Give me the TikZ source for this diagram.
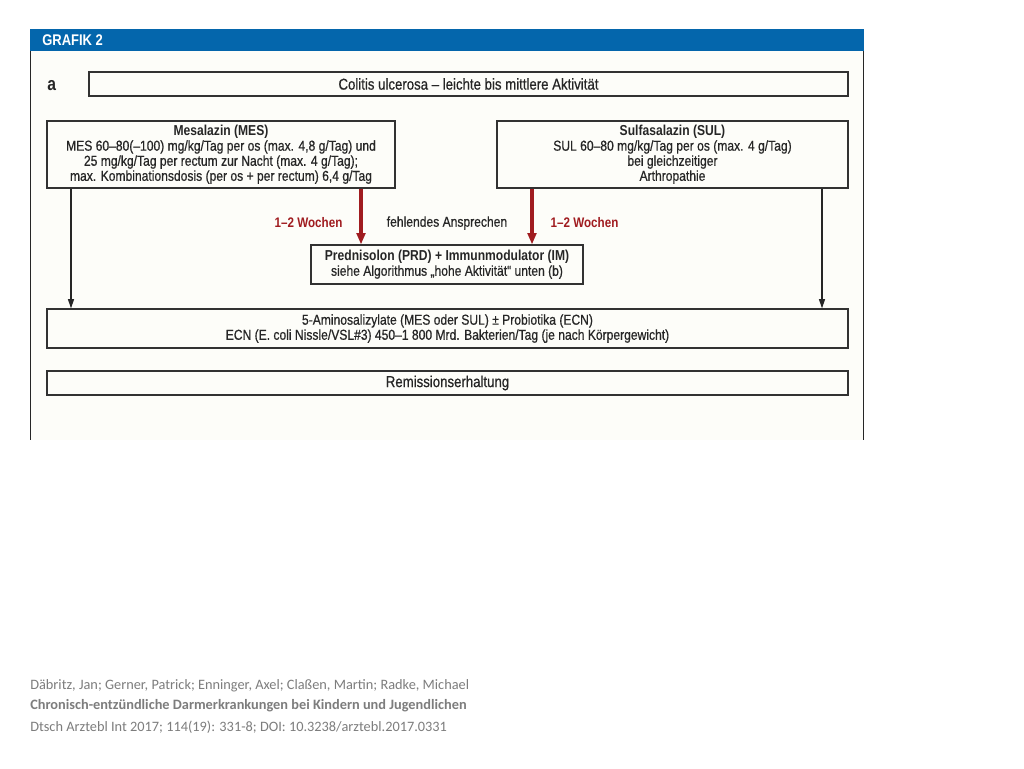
\documentclass[tikz,border=0pt]{standalone}
\usepackage{fontspec}
\setmainfont{Liberation Sans}[FakeStretch=0.84, UprightFeatures={FakeBold=0.6}]
\newfontfamily\citefont{Carlito}
\usetikzlibrary{arrows.meta}
\definecolor{grafblue}{RGB}{4,102,172}
\definecolor{darkred}{RGB}{160,28,32}
\definecolor{boxline}{RGB}{50,50,50}
\definecolor{citegray}{RGB}{125,125,125}
\definecolor{paper}{RGB}{253,253,249}
\begin{document}
\begin{tikzpicture}[x=0.75pt,y=-0.75pt,
  box/.style={draw=boxline,line width=0.9pt,inner sep=0pt,align=center,font=\fontsize{10.8}{11.3}\selectfont,text=black!85},
  blackarrow/.style={draw=black!85,line width=1.1pt,-{Triangle[width=4.5pt,length=7pt]}},
  redarrow/.style={draw=darkred,line width=2.3pt,-{Triangle[width=6.5pt,length=8.5pt]}},
  redlabel/.style={text=darkred,font=\bfseries\fontsize{10.4}{11}\selectfont,inner sep=0pt},
  cite/.style={text=citegray,font=\citefont\fontsize{10.75}{12}\selectfont,anchor=west,inner sep=0pt}]
\useasboundingbox (0,0) rectangle (1024,768);
\fill[white] (0,0) rectangle (1024,768);
\fill[paper] (30,51) rectangle (864,440);
\fill[grafblue] (30,29) rectangle (864,51);
\draw[black!85,line width=1.1pt] (30.5,51) -- (30.5,440);
\draw[black!85,line width=1.1pt] (863.5,51) -- (863.5,440);
\node[anchor=west,text=white,font=\bfseries\fontsize{11.6}{12}\selectfont,inner sep=0pt] (grafik) at (42,40) {GRAFIK 2};
\node[anchor=west,text=black!85,font=\bfseries\fontsize{14}{14}\selectfont,inner sep=0pt] (a) at (47,86) {a};
\node[box,minimum width=569.25pt,minimum height=18pt,font=\fontsize{11.8}{12}\selectfont] (title) at (468.5,84) {Colitis ulcerosa – leichte bis mittlere Aktivität};
\node[box,minimum width=261pt,minimum height=50.25pt] (MES) at (221,154.5) {\textbf{Mesalazin (MES)}\\MES 60–80(–100) mg/kg/Tag per os (max. 4,8 g/Tag) und\\25 mg/kg/Tag per rectum zur Nacht (max. 4 g/Tag);\\max. Kombinationsdosis (per os + per rectum) 6,4 g/Tag};
\node[box,minimum width=263.25pt,minimum height=50.25pt] (SUL) at (672.5,154.5) {\textbf{Sulfasalazin (SUL)}\\SUL 60–80 mg/kg/Tag per os (max. 4 g/Tag)\\bei gleichzeitiger\\Arthropathie};
\node[box,minimum width=204pt,minimum height=29.25pt] (PRD) at (447,264.5) {\textbf{Prednisolon (PRD) + Immunmodulator (IM)}\\siehe Algorithmus „hohe Aktivität“ unten (b)};
\node[box,minimum width=600.75pt,minimum height=29.25pt] (ASA) at (447.5,328.5) {5-Aminosalizylate (MES oder SUL) ± Probiotika (ECN)\\ECN (E. coli Nissle/VSL\#3) 450–1 800 Mrd. Bakterien/Tag (je nach Körpergewicht)};
\node[box,minimum width=600.75pt,minimum height=18pt,font=\fontsize{11.8}{12}\selectfont] (REM) at (447.5,383) {Remissionserhaltung};
\node[redlabel] (w1) at (308.5,223) {1–2 Wochen};
\node[redlabel] (w2) at (584.5,223) {1–2 Wochen};
\node[inner sep=0pt,text=black!85,font=\fontsize{10.8}{11}\selectfont] (fa) at (447,223) {fehlendes Ansprechen};
\draw[blackarrow] (MES.south -| 71,0) -- (ASA.north -| 71,0);
\draw[blackarrow] (SUL.south -| 822,0) -- (ASA.north -| 822,0);
\draw[redarrow] (MES.south -| 361,0) -- (PRD.north -| 361,0);
\draw[redarrow] (SUL.south -| 532,0) -- (PRD.north -| 532,0);
\node[cite] (c1) at (30,686) {Däbritz, Jan; Gerner, Patrick; Enninger, Axel; Claßen, Martin; Radke, Michael};
\node[cite,font=\citefont\bfseries\fontsize{10.75}{12}\selectfont] (c2) at (30,706) {Chronisch-entzündliche Darmerkrankungen bei Kindern und Jugendlichen};
\node[cite] (c3) at (30,727) {Dtsch Arztebl Int 2017; 114(19): 331-8; DOI: 10.3238/arztebl.2017.0331};
\end{tikzpicture}
\end{document}
